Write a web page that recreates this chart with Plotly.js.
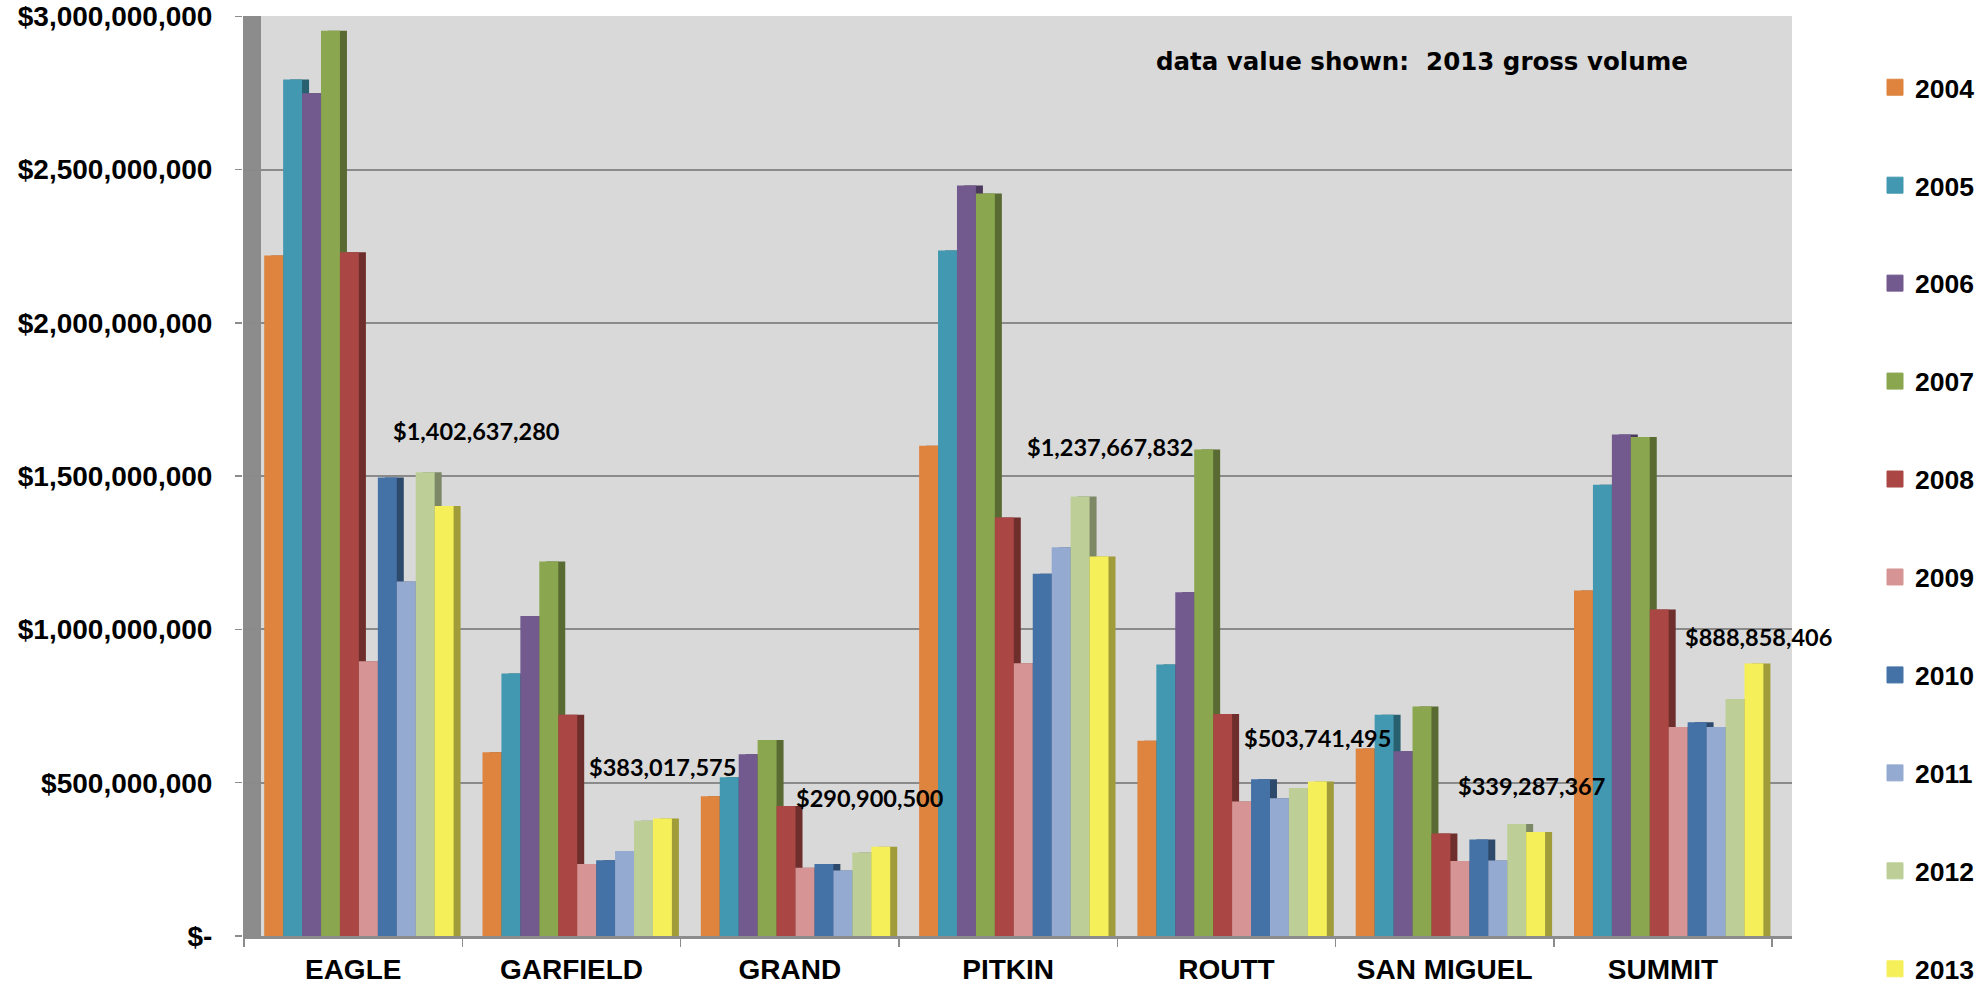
<!DOCTYPE html>
<html>
<head>
<meta charset="utf-8">
<script src="https://cdn.plot.ly/plotly-3.0.1.min.js"></script>
<style>
html,body{margin:0;padding:0;background:#ffffff;}
#chart{width:1988px;height:984px;}
</style>
</head>
<body>
<div id="chart"></div>
<script>
// ---------------- data ----------------
const counties = ['EAGLE', 'GARFIELD', 'GRAND', 'PITKIN', 'ROUTT', 'SAN MIGUEL', 'SUMMIT'];
const years = ['2004', '2005', '2006', '2007', '2008', '2009', '2010', '2011', '2012', '2013'];

const v2004 = [2220000000, 599000000, 456000000, 1599000000, 637000000, 612000000, 1127000000];
const v2005 = [2794000000, 856000000, 518000000, 2236000000, 886000000, 722000000, 1472000000];
const v2006 = [2749000000, 1044000000, 593000000, 2448000000, 1121000000, 603000000, 1636000000];
const v2007 = [2953000000, 1222000000, 639000000, 2422000000, 1587000000, 749000000, 1628000000];
const v2008 = [2230000000, 722000000, 424000000, 1365000000, 724000000, 334000000, 1065000000];
const v2009 = [896000000, 235000000, 223000000, 890000000, 439000000, 245000000, 682000000];
const v2010 = [1496000000, 247000000, 235000000, 1182000000, 511000000, 315000000, 697000000];
const v2011 = [1156000000, 277000000, 214000000, 1268000000, 449000000, 246000000, 682000000];
const v2012 = [1513000000, 376000000, 272000000, 1434000000, 483000000, 365000000, 773000000];
const v2013 = [1402637280, 383017575, 290900500, 1237667832, 503741495, 339287367, 888858406];

const yTickVals = [0, 500000000, 1000000000, 1500000000, 2000000000, 2500000000, 3000000000];
const yTickText = ['$-', '$500,000,000', '$1,000,000,000', '$1,500,000,000', '$2,000,000,000', '$2,500,000,000', '$3,000,000,000'];
const noteText = 'data value shown:  2013 gross volume';

const series = [v2004, v2005, v2006, v2007, v2008, v2009, v2010, v2011, v2012, v2013];

// ---------------- styles / layout ----------------
const colors = ['#DE843F', '#4298B0', '#725A8F', '#8AA64E', '#AA4744', '#D69594', '#4472A6', '#95AAD0', '#BDCF97', '#F5F05A'];
const sideColors = ['#92562A', '#28606F', '#4A395D', '#596B33', '#6E2E2C', '#8B6161', '#2D4A6C', '#606E87', '#7C8866', '#A09C3A'];

const W = 1988, H = 984;
const plotL = 243, plotR = 1792, plotT = 16, plotB = 936;
const catPx = 218.3;
const firstCenter = 353.2;
const barW = 18.94 / catPx;
const groupStart = -89 / catPx;
const sideShift = 7 / catPx;
const xRange = [-(firstCenter - plotL) / catPx, (plotR - firstCenter) / catPx];
const yMax = 3001000000;

// pixel offsets of the data labels from the top of the 2013 bar
const labelShift = [[123, 75], [90.5, 51.5], [80, 49], [102, 110], [91.5, 43.5], [87, 46], [95, 27]];

const traces = [];
// 3D-style side faces (drawn first, behind)
series.forEach((vals, i) => {
  traces.push({
    type: 'bar', x: counties, y: vals,
    width: barW, offset: groupStart + i * barW + sideShift,
    marker: {color: sideColors[i], line: {width: 0}},
    showlegend: false, hoverinfo: 'skip'
  });
});
// front faces
series.forEach((vals, i) => {
  traces.push({
    type: 'bar', x: counties, y: vals, name: years[i],
    width: barW, offset: groupStart + i * barW,
    marker: {color: colors[i], line: {width: 0}},
    showlegend: false
  });
});
// legend entries
years.forEach((yr, i) => {
  traces.push({
    type: 'scatter', mode: 'markers', x: [null], y: [null], name: yr,
    legendgroup: yr,
    marker: {symbol: 'square', size: 16, color: colors[i], line: {width: 1, color: colors[i]}},
    showlegend: true, hoverinfo: 'skip'
  });
});

const annotations = v2013.map((v, i) => ({
  x: counties[i], y: v, xref: 'x', yref: 'y',
  text: '$' + v.toLocaleString('en-US'),
  showarrow: false, xanchor: 'center', yanchor: 'middle',
  xshift: labelShift[i][0], yshift: labelShift[i][1],
  font: {family: 'Lato, Open Sans, sans-serif', size: 23.5, color: '#000000', weight: 'bold'}
}));
annotations.push({
  xref: 'paper', yref: 'paper', x: 1421.5 / W, y: 1 - 61 / H,
  xanchor: 'center', yanchor: 'middle', showarrow: false,
  text: noteText,
  font: {family: 'DejaVu Sans, sans-serif', size: 24.5, color: '#000000', weight: 'bold'}
});

const axisFont = {family: 'Liberation Sans, Arial, sans-serif', size: 28, color: '#000000', weight: 'bold'};

const layout = {
  width: W, height: H,
  margin: {l: 0, r: 0, t: 0, b: 0, autoexpand: false},
  paper_bgcolor: '#ffffff',
  plot_bgcolor: '#D9D9D9',
  barmode: 'overlay',
  showlegend: true,
  xaxis: {
    domain: [plotL / W, plotR / W],
    type: 'category', range: xRange,
    tickson: 'boundaries', ticks: 'outside', ticklen: 8, tickwidth: 1.5, tickcolor: '#8C8C8C',
    showline: true, linecolor: '#8C8C8C', linewidth: 3,
    showgrid: false, zeroline: false,
    tickfont: axisFont, ticklabelstandoff: 6,
    fixedrange: true
  },
  yaxis: {
    domain: [1 - plotB / H, 1 - plotT / H],
    range: [0, yMax],
    tickmode: 'array', tickvals: yTickVals, ticktext: yTickText,
    ticks: 'outside', ticklen: 7, tickwidth: 1.5, tickcolor: '#8C8C8C',
    showgrid: true, gridcolor: '#8A8A8A', gridwidth: 2,
    zeroline: false, showline: false,
    tickfont: axisFont, ticklabelstandoff: 17,
    fixedrange: true
  },
  legend: {
    x: 1875 / W, xanchor: 'left', y: 1 - 63.5 / H, yanchor: 'top',
    font: {family: 'Liberation Sans, Arial, sans-serif', size: 26.5, color: '#000000', weight: 'bold'},
    tracegroupgap: 60.5, bgcolor: 'rgba(0,0,0,0)', borderwidth: 0
  },
  shapes: [{
    type: 'rect', xref: 'x domain', yref: 'y domain',
    x0: 0, x1: 18 / (plotR - plotL), y0: 0, y1: 1,
    fillcolor: '#8C8C8C', line: {width: 0}, layer: 'below'
  }],
  annotations: annotations
};

Plotly.newPlot('chart', traces, layout, {displayModeBar: false, staticPlot: true});
</script>
</body>
</html>
